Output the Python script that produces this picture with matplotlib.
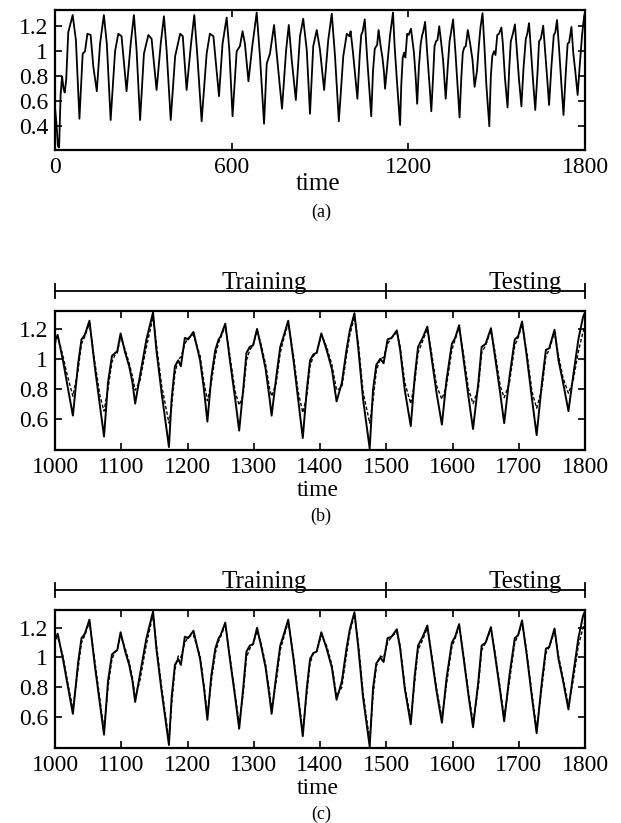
import matplotlib
matplotlib.use("Agg")
import matplotlib.pyplot as plt

# panel (a): series from t=0 to t=1000
t_start = [0, 5, 10, 14, 19, 24, 29, 33, 38, 45,
           60, 71, 83, 94, 102, 110, 121, 130, 142, 153,
           166, 176, 189, 204, 215, 226, 243, 257, 268, 277,
           289, 302, 317, 328, 345, 359, 370, 379, 393, 408,
           425, 434, 447, 462, 473, 483, 498, 515, 526, 538,
           557, 569, 583, 592, 603, 617, 628, 637, 645, 657,
           670, 685, 696, 710, 719, 730, 744, 753, 771, 785,
           794, 804, 818, 832, 843, 855, 866, 877, 889, 900,
           914, 928, 940, 951, 964, 979, 991]
x_start = [0.55, 0.42, 0.24, 0.23, 0.65, 0.80, 0.70, 0.67, 0.77, 1.15,
           1.29, 1.09, 0.46, 0.98, 1.00, 1.14, 1.13, 0.88, 0.68, 1.06,
           1.29, 1.06, 0.45, 1.00, 1.14, 1.12, 0.68, 1.06, 1.29, 1.01,
           0.45, 0.98, 1.13, 1.10, 0.69, 1.06, 1.28, 1.01, 0.45, 0.96,
           1.14, 1.12, 0.69, 1.06, 1.29, 0.98, 0.44, 0.98, 1.14, 1.12,
           0.64, 1.06, 1.27, 1.01, 0.48, 1.00, 1.04, 1.16, 1.06, 0.76,
           1.04, 1.31, 0.96, 0.42, 0.90, 0.98, 1.21, 0.98, 0.54, 1.01,
           1.21, 0.93, 0.61, 1.12, 1.26, 1.01, 0.50, 1.04, 1.17, 1.01,
           0.69, 1.09, 1.30, 0.96, 0.44, 0.96, 1.14]

# t=1000..1800: actual series and the two predictions (b) and (c)
t_test = [1000, 1004, 1012, 1018, 1027, 1035, 1040, 1045, 1052, 1060,
          1068, 1074, 1080, 1086, 1091, 1094, 1099, 1106, 1112, 1117,
          1121, 1128, 1138, 1148, 1153, 1161, 1172, 1176, 1181, 1186,
          1190, 1196, 1201, 1209, 1219, 1225, 1230, 1236, 1242, 1247,
          1250, 1257, 1264, 1272, 1278, 1284, 1289, 1294, 1299, 1305,
          1312, 1318, 1324, 1327, 1334, 1340, 1345, 1352, 1360, 1367,
          1374, 1380, 1385, 1390, 1395, 1402, 1410, 1418, 1425, 1433,
          1440, 1445, 1452, 1458, 1465, 1475, 1480, 1485, 1491, 1496,
          1502, 1508, 1516, 1521, 1528, 1537, 1543, 1548, 1555, 1562,
          1568, 1576, 1584, 1591, 1599, 1604, 1610, 1616, 1624, 1631,
          1639, 1644, 1650, 1658, 1664, 1672, 1678, 1686, 1694, 1699,
          1705, 1712, 1720, 1727, 1735, 1741, 1746, 1754, 1760, 1767,
          1775, 1782, 1790, 1797, 1800]
actual = [1.12, 1.16, 0.99, 0.84, 0.62, 0.97, 1.13, 1.16, 1.255, 0.95,
          0.68, 0.48, 0.84, 1.02, 1.04, 1.05, 1.17, 1.04, 0.95, 0.84,
          0.70, 0.88, 1.13, 1.31, 1.06, 0.77, 0.41, 0.73, 0.95, 0.99,
          0.95, 1.14, 1.13, 1.18, 0.99, 0.79, 0.58, 0.88, 1.06, 1.13,
          1.15, 1.235, 0.99, 0.73, 0.52, 0.79, 1.04, 1.08, 1.09, 1.20,
          1.06, 0.93, 0.73, 0.62, 0.88, 1.08, 1.15, 1.255, 0.99, 0.73,
          0.47, 0.79, 0.99, 1.03, 1.04, 1.17, 1.06, 0.93, 0.715, 0.84,
          1.06, 1.19, 1.305, 1.06, 0.73, 0.40, 0.79, 0.96, 1.00, 0.97,
          1.13, 1.14, 1.19, 1.06, 0.79, 0.55, 0.88, 1.08, 1.14, 1.215,
          1.02, 0.77, 0.56, 0.86, 1.10, 1.14, 1.225, 1.02, 0.75, 0.53,
          0.84, 1.08, 1.10, 1.205, 1.02, 0.77, 0.57, 0.88, 1.13, 1.15,
          1.25, 1.02, 0.73, 0.49, 0.84, 1.06, 1.07, 1.195, 0.99, 0.84,
          0.65, 0.88, 1.13, 1.28, 1.31]
pred_b = [1.10, 1.15, 1.02, 0.90, 0.75, 0.93, 1.10, 1.15, 1.24, 0.98,
          0.75, 0.65, 0.80, 0.98, 1.03, 1.04, 1.15, 1.06, 0.97, 0.88,
          0.79, 0.85, 1.08, 1.28, 1.10, 0.82, 0.57, 0.68, 0.90, 1.00,
          1.01, 1.10, 1.14, 1.16, 1.02, 0.84, 0.72, 0.84, 1.02, 1.11,
          1.14, 1.22, 1.02, 0.78, 0.69, 0.76, 0.99, 1.06, 1.09, 1.19,
          1.08, 0.96, 0.80, 0.75, 0.84, 1.04, 1.13, 1.24, 1.02, 0.78,
          0.64, 0.75, 0.95, 1.02, 1.04, 1.16, 1.08, 0.96, 0.79, 0.81,
          1.02, 1.16, 1.28, 1.10, 0.78, 0.57, 0.72, 0.92, 1.00, 1.01,
          1.10, 1.14, 1.18, 1.08, 0.84, 0.70, 0.84, 1.04, 1.12, 1.20,
          1.05, 0.82, 0.73, 0.82, 1.06, 1.13, 1.21, 1.05, 0.80, 0.70,
          0.80, 1.04, 1.09, 1.19, 1.05, 0.82, 0.74, 0.84, 1.09, 1.14,
          1.23, 1.05, 0.78, 0.67, 0.80, 1.02, 1.06, 1.18, 1.02, 0.87,
          0.77, 0.85, 1.05, 1.18, 1.22]
pred_c = [1.12, 1.14, 1.01, 0.86, 0.65, 0.93, 1.10, 1.15, 1.24, 0.98,
          0.71, 0.51, 0.80, 0.99, 1.04, 1.05, 1.15, 1.06, 0.97, 0.86,
          0.73, 0.84, 1.09, 1.29, 1.09, 0.80, 0.44, 0.68, 0.92, 1.01,
          1.00, 1.10, 1.14, 1.15, 1.01, 0.81, 0.61, 0.84, 1.03, 1.11,
          1.14, 1.22, 1.01, 0.75, 0.55, 0.75, 1.00, 1.06, 1.09, 1.18,
          1.08, 0.95, 0.76, 0.65, 0.84, 1.05, 1.13, 1.24, 1.01, 0.75,
          0.50, 0.75, 0.96, 1.03, 1.04, 1.15, 1.08, 0.95, 0.74, 0.80,
          1.02, 1.17, 1.29, 1.09, 0.76, 0.44, 0.74, 0.94, 1.01, 1.00,
          1.10, 1.14, 1.17, 1.08, 0.81, 0.58, 0.84, 1.05, 1.12, 1.20,
          1.04, 0.79, 0.59, 0.82, 1.07, 1.13, 1.21, 1.04, 0.77, 0.56,
          0.80, 1.05, 1.10, 1.19, 1.04, 0.79, 0.60, 0.84, 1.10, 1.15,
          1.23, 1.04, 0.75, 0.52, 0.80, 1.03, 1.07, 1.18, 1.01, 0.86,
          0.68, 0.84, 1.08, 1.20, 1.24]

W, H = 621, 823
FONT = "Liberation Serif"
plt.rcParams['font.family'] = FONT


def style_axes(ax, xticks, yticks, ylabels):
    ax.set_xticks(xticks)
    ax.set_xticklabels([str(v) for v in xticks])
    ax.set_yticks(yticks)
    ax.set_yticklabels(ylabels)
    ax.tick_params(direction='in', length=5, width=1.2, top=True, right=True,
                   labelsize=17, pad=5)
    for s in ax.spines.values():
        s.set_linewidth(1.6)


def px_axes(left, top, right, bottom):
    return fig.add_axes([left / W, 1 - bottom / H, (right - left) / W, (bottom - top) / H])


def split_bar(ax, ytop, h):
    tr = ax.get_xaxis_transform()
    ax.plot([1000, 1800], [ytop, ytop], color='black', lw=1.3, transform=tr, clip_on=False)
    for xv in (1000, 1500, 1800):
        ax.plot([xv, xv], [ytop - 7 / h, ytop + 7 / h], color='black', lw=1.3,
                transform=tr, clip_on=False)
    ax.text(1315, ytop + 2 / h, "Training", transform=tr, ha='center', va='baseline',
            fontsize=18)
    ax.text(1709, ytop + 2 / h, "Testing", transform=tr, ha='center', va='baseline',
            fontsize=18)


fig = plt.figure(figsize=(W / 100, H / 100), dpi=100)

# (a)
ax1 = px_axes(55, 10, 585, 150)
ax1.plot(t_start + t_test, x_start + actual, color='black', lw=1.3)
ax1.set_xlim(0, 1800)
ax1.set_ylim(0.21, 1.33)
style_axes(ax1, [0, 600, 1200, 1800], [0.4, 0.6, 0.8, 1.0, 1.2],
           ['0.4', '0.6', '0.8', '1', '1.2'])
fig.text(318 / W, 1 - 184 / H, "time", ha='center', va='center', fontsize=18)
fig.text(321 / W, 1 - 212 / H, "(a)", ha='center', va='center', fontsize=13)

# (b) and (c)
for top, bottom, pred, tag in [(311, 450, pred_b, "(b)"), (610, 748, pred_c, "(c)")]:
    ax = px_axes(55, top, 585, bottom)
    ax.plot(t_test, actual, color='black', lw=1.4)
    ax.plot(t_test, pred, color='black', lw=1.0, linestyle=(0, (2.5, 1.5)))
    ax.set_xlim(1000, 1800)
    ax.set_ylim(0.39, 1.32)
    style_axes(ax, list(range(1000, 1801, 100)), [0.6, 0.8, 1.0, 1.2],
               ['0.6', '0.8', '1', '1.2'])
    h = bottom - top
    split_bar(ax, 1 + 20 / h, h)
    fig.text(318 / W, 1 - (bottom + 40) / H, "time", ha='center', va='center', fontsize=17)
    fig.text(321 / W, 1 - (bottom + 66) / H, tag, ha='center', va='center', fontsize=13)

fig.savefig("out.png", dpi=100)
